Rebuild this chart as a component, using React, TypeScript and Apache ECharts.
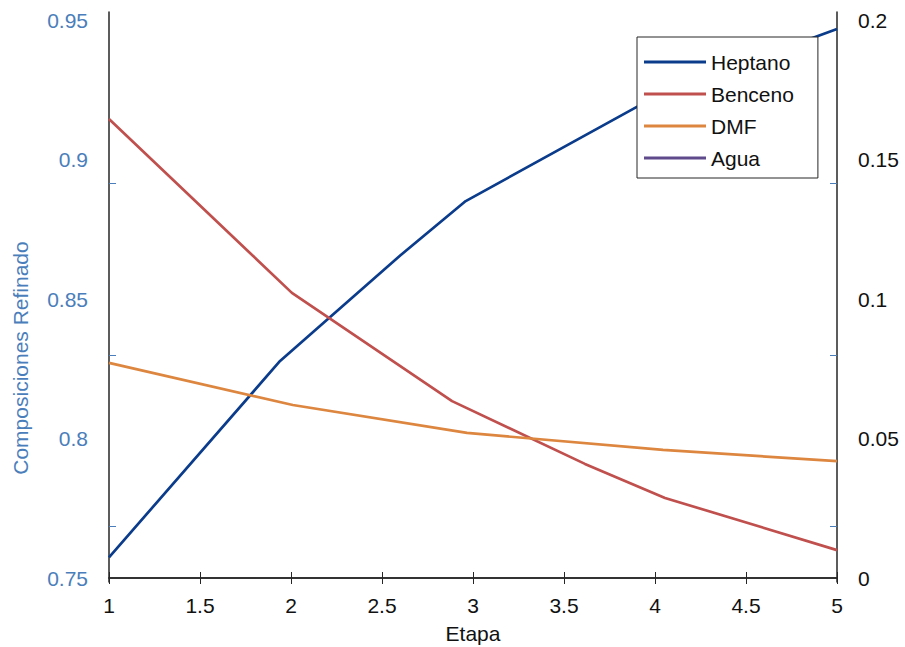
import React, { useEffect, useRef } from "react";
import * as echarts from "echarts";

const seriesNames = ["Heptano", "Benceno", "DMF", "Agua"];
const heptanoX = [1, 1.94, 2.6, 2.96, 4.03, 5];
const heptanoY = [0.7574, 0.8278, 0.8656, 0.8851, 0.9235, 0.9468];
const bencenoX = [1, 2.005, 2.885, 3.615, 4.055, 5];
const bencenoY = [0.1645, 0.1022, 0.0634, 0.0409, 0.0287, 0.01];
const dmfX = [1, 2.01, 2.967, 4.044, 5];
const dmfY = [0.0771, 0.062, 0.052, 0.0459, 0.0419];
const aguaX: number[] = [];
const aguaY: number[] = [];
const leftTickLabels = [0.75, 0.8, 0.85, 0.9, 0.95];
const rightTickLabels = [0, 0.05, 0.1, 0.15, 0.2];
const leftMarkTicks = [0.76864, 0.82993, 0.89158];
const rightMarkTicks = [0.01864, 0.07993, 0.14158];

const FONT = "Liberation Sans, Arial, Helvetica, sans-serif";
const BLUE = "#4a7ebb";
const colors = ["#0b3c8c", "#c0504d", "#dd8640", "#5f4b8b"];

const zip = (xs: number[], ys: number[]) => xs.map((x, i) => [x, ys[i]]);

export default function App() {
  const ref = useRef<HTMLDivElement>(null);
  useEffect(() => {
    document.body.style.margin = "0";
    const chart = echarts.init(ref.current!, null, { renderer: "svg" });
    const pxPerUnit = 2790;
    const lMin = 0.75 - 4 / pxPerUnit;
    const lMax = 0.95 + 8 / pxPerUnit;
    const rMin = 0 - 4 / pxPerUnit;
    const rMax = 0.2 + 8 / pxPerUnit;
    const lineCol = "#262626";
    chart.setOption({
      animation: false,
      backgroundColor: "#ffffff",
      color: colors,
      textStyle: { fontFamily: FONT },
      grid: {
        left: 109,
        right: 68,
        top: 12,
        bottom: 65,
        containLabel: false,
        outerBoundsMode: "none",
      },
      legend: {
        data: seriesNames,
        orient: "vertical",
        left: 637,
        top: 37,
        icon: "rect",
        itemWidth: 62,
        itemHeight: 3,
        itemGap: 10,
        padding: [14, 24, 9, 7],
        backgroundColor: "#ffffff",
        borderColor: "#262626",
        borderWidth: 1,
        textStyle: { fontFamily: FONT, fontSize: 21, color: "#111", lineHeight: 22 },
      },
      xAxis: [
        {
          type: "value",
          min: 1,
          max: 5,
          interval: 0.5,
          position: "bottom",
          name: "Etapa",
          nameLocation: "middle",
          nameGap: 41,
          nameTextStyle: { fontFamily: FONT, fontSize: 21, color: "#111" },
          axisLine: { show: true, lineStyle: { color: lineCol, width: 1.5 } },
          axisTick: { show: true, inside: true, length: 6, lineStyle: { color: lineCol } },
          axisLabel: { fontFamily: FONT, fontSize: 21, color: "#111", margin: 13 },
          splitLine: { show: false },
        },
        {
          type: "value",
          min: 1,
          max: 5,
          interval: 0.5,
          position: "top",
          axisLine: { show: true, lineStyle: { color: lineCol, width: 1.5 } },
          axisTick: { show: true, inside: true, length: 6, lineStyle: { color: lineCol } },
          axisLabel: { show: false },
          splitLine: { show: false },
        },
      ],
      yAxis: [
        {
          type: "value",
          position: "left",
          min: lMin,
          max: lMax,
          axisLine: { show: true, lineStyle: { color: lineCol, width: 1.5 } },
          axisTick: { show: false },
          axisLabel: {
            customValues: leftTickLabels,
            fontFamily: FONT,
            fontSize: 21,
            color: BLUE,
            margin: 21,
          },
          splitLine: { show: false },
        },
        {
          type: "value",
          position: "right",
          min: rMin,
          max: rMax,
          axisLine: { show: true, lineStyle: { color: lineCol, width: 1.5 } },
          axisTick: { show: false },
          axisLabel: {
            customValues: rightTickLabels,
            fontFamily: FONT,
            fontSize: 21,
            color: "#111",
            margin: 21,
          },
          splitLine: { show: false },
        },
        {
          type: "value",
          position: "left",
          min: lMin,
          max: lMax,
          axisLine: { show: false },
          axisTick: {
            show: true,
            inside: true,
            length: 7,
            customValues: leftMarkTicks,
            lineStyle: { color: BLUE, width: 1 },
          },
          axisLabel: { show: false },
          splitLine: { show: false },
        },
        {
          type: "value",
          position: "right",
          min: rMin,
          max: rMax,
          axisLine: { show: false },
          axisTick: {
            show: true,
            inside: true,
            length: 7,
            customValues: rightMarkTicks,
            lineStyle: { color: BLUE, width: 1 },
          },
          axisLabel: { show: false },
          splitLine: { show: false },
        },
      ],
      graphic: [
        {
          type: "text",
          x: 20,
          y: 358,
          rotation: Math.PI / 2,
          style: {
            text: "Composiciones Refinado",
            fill: BLUE,
            font: `21px ${FONT}`,
            align: "center",
            verticalAlign: "middle",
          },
        },
      ],
      series: [
        {
          name: "Heptano",
          type: "line",
          yAxisIndex: 0,
          data: zip(heptanoX, heptanoY),
          showSymbol: false,
          clip: true,
          lineStyle: { width: 2.7, color: colors[0] },
          itemStyle: { color: colors[0] },
        },
        {
          name: "Benceno",
          type: "line",
          yAxisIndex: 1,
          data: zip(bencenoX, bencenoY),
          showSymbol: false,
          clip: true,
          lineStyle: { width: 2.7, color: colors[1] },
          itemStyle: { color: colors[1] },
        },
        {
          name: "DMF",
          type: "line",
          yAxisIndex: 1,
          data: zip(dmfX, dmfY),
          showSymbol: false,
          clip: true,
          lineStyle: { width: 2.7, color: colors[2] },
          itemStyle: { color: colors[2] },
        },
        {
          name: "Agua",
          type: "line",
          yAxisIndex: 1,
          data: zip(aguaX, aguaY),
          showSymbol: false,
          clip: true,
          lineStyle: { width: 2.7, color: colors[3] },
          itemStyle: { color: colors[3] },
        },
      ],
    });
    return () => chart.dispose();
  }, []);
  return (
    <div
      ref={ref}
      style={{ position: "fixed", left: 0, top: 0, width: 905, height: 647, background: "#fff" }}
    />
  );
}
